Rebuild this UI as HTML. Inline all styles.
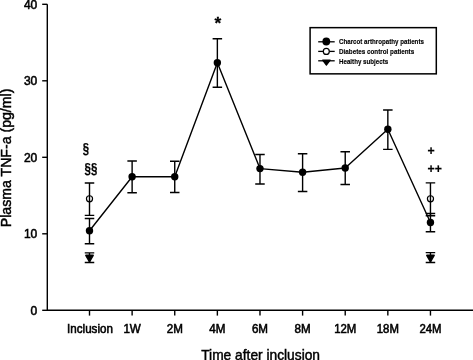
<!DOCTYPE html>
<html><head><meta charset="utf-8"><title>Plasma TNF-a</title>
<style>html,body{margin:0;padding:0;background:#fff;}svg{display:block;}text{font-family:"Liberation Sans",Arial,Helvetica,sans-serif;fill:#000;}</style></head><body>
<svg width="473" height="360" viewBox="0 0 473 360">
<rect width="473" height="360" fill="#fff"/>
<g stroke="#000" stroke-width="1.4" fill="none" stroke-linecap="butt">
<path d="M47.3 4.3V310.3H473"/>
<path d="M42.2 310.30H47.3"/>
<path d="M42.2 233.80H47.3"/>
<path d="M42.2 157.30H47.3"/>
<path d="M42.2 80.80H47.3"/>
<path d="M42.2 4.30H47.3"/>
<path d="M89.50 310.3V315.6"/>
<path d="M132.12 310.3V315.6"/>
<path d="M174.74 310.3V315.6"/>
<path d="M217.36 310.3V315.6"/>
<path d="M259.98 310.3V315.6"/>
<path d="M302.60 310.3V315.6"/>
<path d="M345.22 310.3V315.6"/>
<path d="M387.84 310.3V315.6"/>
<path d="M430.46 310.3V315.6"/>
<path d="M89.50 218.5V243.7M84.75 218.5H94.25M84.75 243.7H94.25"/>
<path d="M132.12 161V192.7M127.37 161H136.87M127.37 192.7H136.87"/>
<path d="M174.74 161.2V192.5M169.99 161.2H179.49M169.99 192.5H179.49"/>
<path d="M217.36 38.8V87.3M212.61 38.8H222.11M212.61 87.3H222.11"/>
<path d="M259.98 154.5V184M255.23 154.5H264.73M255.23 184H264.73"/>
<path d="M302.60 153.8V191.5M297.85 153.8H307.35M297.85 191.5H307.35"/>
<path d="M345.22 151.8V184.5M340.47 151.8H349.97M340.47 184.5H349.97"/>
<path d="M387.84 110V149.4M383.09 110H392.59M383.09 149.4H392.59"/>
<path d="M430.46 213.5V231.8M425.71 213.5H435.21M425.71 231.8H435.21"/>
<path d="M89.50 183V215.4M84.75 183H94.25M84.75 215.4H94.25"/>
<path d="M430.46 182.9V215.7M425.71 182.9H435.21M425.71 215.7H435.21"/>
<path d="M89.50 252.9V262.5M84.75 252.9H94.25M84.75 262.5H94.25"/>
<path d="M430.46 252.6V262.5M425.71 252.6H435.21M425.71 262.5H435.21"/>
<polyline points="89.50,230.7 132.12,176.7 174.74,176.7 217.36,62.7 259.98,168.6 302.60,172.3 345.22,168 387.84,129.2 430.46,222.5" stroke-linejoin="round"/>
</g>
<circle cx="89.50" cy="230.7" r="3.7" fill="#000"/>
<circle cx="132.12" cy="176.7" r="3.7" fill="#000"/>
<circle cx="174.74" cy="176.7" r="3.7" fill="#000"/>
<circle cx="217.36" cy="62.7" r="3.7" fill="#000"/>
<circle cx="259.98" cy="168.6" r="3.7" fill="#000"/>
<circle cx="302.60" cy="172.3" r="3.7" fill="#000"/>
<circle cx="345.22" cy="168" r="3.7" fill="#000"/>
<circle cx="387.84" cy="129.2" r="3.7" fill="#000"/>
<circle cx="430.46" cy="222.5" r="3.7" fill="#000"/>
<circle cx="89.50" cy="198.8" r="3.05" fill="none" stroke="#000" stroke-width="1.2"/>
<circle cx="430.46" cy="198.8" r="3.05" fill="none" stroke="#000" stroke-width="1.2"/>
<path d="M85.80 255.3H93.20L89.50 261.8Z" fill="#000" stroke="#000" stroke-width="1.4" stroke-linejoin="round"/>
<path d="M426.76 255.3H434.16L430.46 261.8Z" fill="#000" stroke="#000" stroke-width="1.4" stroke-linejoin="round"/>
<rect x="310.1" y="27.65" width="126.2" height="46.2" fill="#fff" stroke="#000" stroke-width="1.5"/>
<path d="M318.2 41.8H334.7" stroke="#000" stroke-width="1.3"/>
<path d="M318.2 51.4H334.7" stroke="#000" stroke-width="1.3"/>
<path d="M318.2 60.8H334.7" stroke="#000" stroke-width="1.3"/>
<circle cx="326.3" cy="41.5" r="3.9" fill="#000"/>
<circle cx="326.3" cy="51.4" r="3" fill="#fff" stroke="#000" stroke-width="1.2"/>
<path d="M322.6 60.2H330.2L326.4 65.2Z" fill="#000" stroke="#000" stroke-width="1.2" stroke-linejoin="round"/>
<text x="339" y="44.3" font-size="8" font-weight="bold" stroke="#000" stroke-width="0.15" textLength="84.9" lengthAdjust="spacingAndGlyphs">Charcot arthropathy patients</text>
<text x="339" y="54.2" font-size="8" font-weight="bold" stroke="#000" stroke-width="0.15" textLength="75.2" lengthAdjust="spacingAndGlyphs">Diabetes control patients</text>
<text x="339" y="64.1" font-size="8" font-weight="bold" stroke="#000" stroke-width="0.15" textLength="49.2" lengthAdjust="spacingAndGlyphs">Healthy subjects</text>
<text x="37.3" y="314.80" font-size="12" text-anchor="end" stroke="#000" stroke-width="0.55">0</text>
<text x="37.3" y="238.30" font-size="12" text-anchor="end" stroke="#000" stroke-width="0.55">10</text>
<text x="37.3" y="161.80" font-size="12" text-anchor="end" stroke="#000" stroke-width="0.55">20</text>
<text x="37.3" y="85.30" font-size="12" text-anchor="end" stroke="#000" stroke-width="0.55">30</text>
<text x="37.3" y="8.80" font-size="12" text-anchor="end" stroke="#000" stroke-width="0.55">40</text>
<text transform="translate(90.00 332.8) scale(0.968 1)" font-size="12" text-anchor="middle" stroke="#000" stroke-width="0.55">Inclusion</text>
<text transform="translate(132.12 332.8) scale(0.97 1)" font-size="12" text-anchor="middle" stroke="#000" stroke-width="0.55">1W</text>
<text transform="translate(174.74 332.8) scale(0.97 1)" font-size="12" text-anchor="middle" stroke="#000" stroke-width="0.55">2M</text>
<text transform="translate(217.36 332.8) scale(0.97 1)" font-size="12" text-anchor="middle" stroke="#000" stroke-width="0.55">4M</text>
<text transform="translate(259.98 332.8) scale(0.97 1)" font-size="12" text-anchor="middle" stroke="#000" stroke-width="0.55">6M</text>
<text transform="translate(302.60 332.8) scale(0.97 1)" font-size="12" text-anchor="middle" stroke="#000" stroke-width="0.55">8M</text>
<text transform="translate(345.22 332.8) scale(0.95 1)" font-size="12" text-anchor="middle" stroke="#000" stroke-width="0.55">12M</text>
<text transform="translate(387.84 332.8) scale(0.95 1)" font-size="12" text-anchor="middle" stroke="#000" stroke-width="0.55">18M</text>
<text transform="translate(430.46 332.8) scale(0.95 1)" font-size="12" text-anchor="middle" stroke="#000" stroke-width="0.55">24M</text>
<text transform="translate(260.6 360) scale(0.984 1)" font-size="14" text-anchor="middle" stroke="#000" stroke-width="0.45">Time after inclusion</text>
<text transform="translate(11.1 227.2) rotate(-90)" font-size="14" textLength="138.6" lengthAdjust="spacingAndGlyphs" stroke="#000" stroke-width="0.45">Plasma TNF-a (pg/ml)</text>
<text transform="translate(82.8 152.7) scale(0.95 1.17)" font-size="12" font-weight="bold" stroke="#000" stroke-width="0.2">§</text>
<text transform="translate(84.5 172.8) scale(0.96 1.17)" font-size="12" font-weight="bold" stroke="#000" stroke-width="0.2">§§</text>
<text transform="translate(217.8 28.5) scale(1 0.9)" font-size="17.3" font-weight="bold" text-anchor="middle" stroke="#000" stroke-width="0.3">*</text>
<text transform="translate(427.4 155.4) scale(1.02 1.08)" font-size="12" font-weight="bold" stroke="#000" stroke-width="0.2">+</text>
<text transform="translate(427.4 173.2) scale(1.02 1.08)" letter-spacing="0.2" font-size="12" font-weight="bold" stroke="#000" stroke-width="0.2">++</text>
</svg></body></html>
